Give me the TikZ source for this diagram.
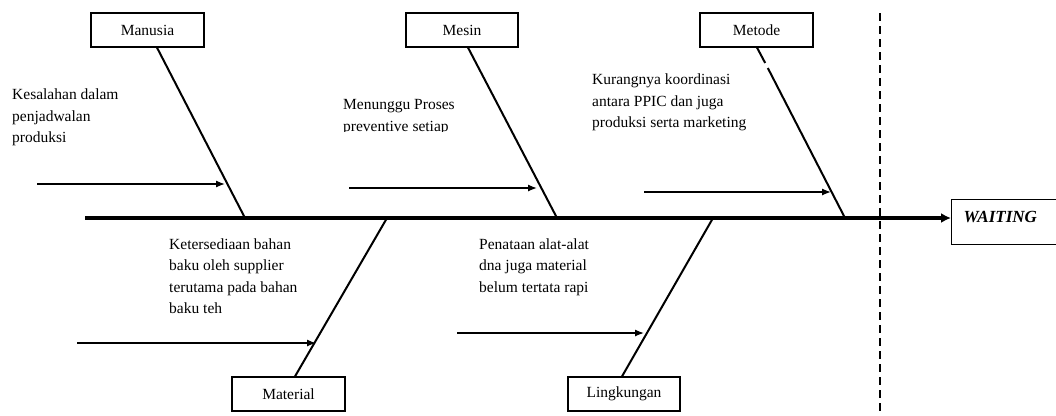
\documentclass[tikz,border=0pt]{standalone}
\usepackage{fontspec}
\setmainfont{Liberation Serif}
\usetikzlibrary{arrows.meta,calc}
\begin{document}
\begin{tikzpicture}[x=1pt,y=-1pt,
  lbl/.style={font=\fontsize{15.5}{21.5}\selectfont, align=left, anchor=north west, inner sep=0pt},
  cat/.style={draw, line width=1.2pt, minimum width=113pt, minimum height=34pt, font=\fontsize{15.5}{18}\selectfont, inner sep=0pt},
  bone/.style={line width=2pt},
  sub/.style={line width=1.3pt, -{Latex[length=9pt,width=7pt]}},
]
\useasboundingbox (0,0) rectangle (1056,415);
\clip (0,0) rectangle (1056,415);

% category boxes
\node[cat] (manusia) at (147.5,30) {Manusia};
\node[cat, minimum width=112pt] (mesin) at (462,30) {Mesin};
\node[cat] (metode) at (756.5,30) {Metode};
\node[cat] (material) at (288.5,394) {Material};
\node[cat, minimum width=112pt] (lingkungan) at (624,394) {Lingkungan};

% effect box
\node[draw, line width=1.2pt, anchor=north west, minimum width=130pt, minimum height=45pt,
      inner xsep=12pt, inner ysep=0pt, text height=12pt, text depth=12pt, text width=106pt, align=left,
      font=\fontsize{17}{20}\selectfont\bfseries\itshape] (waiting) at (951,199) {WAITING};

% spine
\coordinate (spinestart) at (85,218);
\draw[line width=3.4pt, -{Latex[length=10pt,width=10pt]}] (spinestart) -- (spinestart -| waiting.west);

% dashed separator
\coordinate (dtop) at (880,13);
\coordinate (dbot) at (880,415);
\draw[line width=1.6pt, dash pattern=on 8pt off 5pt] (dtop) -- (dbot);

% bones
\coordinate (j1) at (245,218);
\coordinate (j2) at (557,218);
\coordinate (j3) at (845,218);
\coordinate (j4) at (387,218);
\coordinate (j5) at (713,218);
\draw[bone] ($(manusia.south)+(9.5,0)$) -- (j1);
\draw[bone] ($(mesin.south)+(6,0)$) -- (j2);
\coordinate (m3a) at (765.2,63);
\coordinate (m3b) at (767.8,68);
\draw[bone] ($(metode.south)+(0.5,0)$) -- (m3a);
\draw[bone] (m3b) -- (j3);
\draw[bone] ($(material.north)+(6.5,0)$) -- (j4);
\draw[bone] ($(lingkungan.north)+(-2,0)$) -- (j5);

% sub-cause arrows
\coordinate (a1s) at (37,184);   \coordinate (a1e) at (225,184);
\coordinate (a2s) at (349,188);  \coordinate (a2e) at (537,188);
\coordinate (a3s) at (644,192);  \coordinate (a3e) at (831,192);
\coordinate (a4s) at (77,343);   \coordinate (a4e) at (316,343);
\coordinate (a5s) at (457,333);  \coordinate (a5e) at (644,333);
\draw[sub] (a1s) -- (a1e);
\draw[sub] (a2s) -- (a2e);
\draw[sub] (a3s) -- (a3e);
\draw[sub] (a4s) -- (a4e);
\draw[sub] (a5s) -- (a5e);

% cause texts
\node[lbl] (t1) at (12,89) {Kesalahan dalam\\penjadwalan\\produksi};
\begin{scope}
  \clip (330,90) rectangle (470,131);
  \node[lbl] (t2) at (343,99.5) {Menunggu Proses\\preventive setiap};
\end{scope}
\node[lbl] (t3) at (592,74) {Kurangnya koordinasi\\antara PPIC dan juga\\produksi serta marketing};
\node[lbl] (t4) at (169,238.5) {Ketersediaan bahan\\baku oleh supplier\\terutama pada bahan\\baku teh};
\node[lbl] (t5) at (479,238.5) {Penataan alat-alat\\dna juga material\\belum tertata rapi};
\end{tikzpicture}
\end{document}
